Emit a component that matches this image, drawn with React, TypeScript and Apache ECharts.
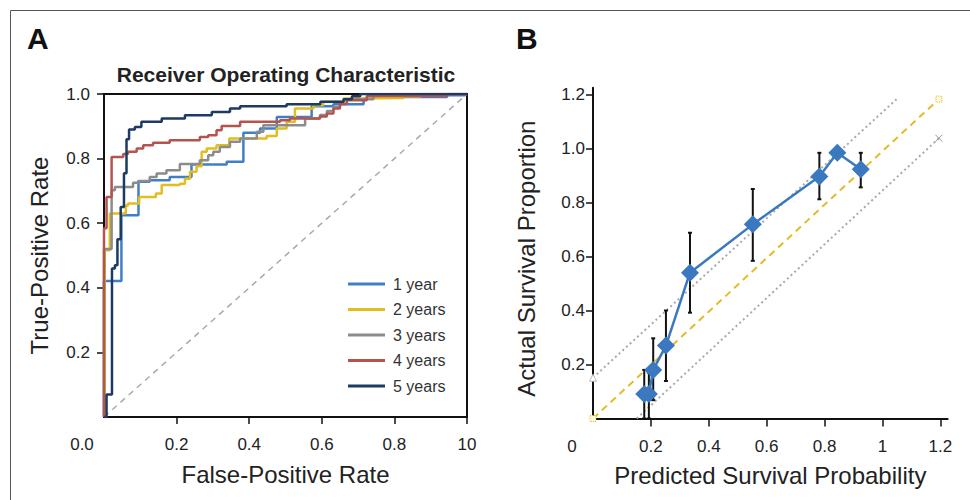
import React, { useEffect, useRef } from 'react';
import * as echarts from 'echarts';

// ---- Panel A: ROC curves (FPR, TPR) staircase vertices ----
const ROC_1Y = [[0,0],[0,0.421],[0.048,0.625],[0.095,0.728],[0.126,0.733],[0.181,0.743],[0.241,0.782],[0.338,0.79],[0.384,0.88],[0.43,0.893],[0.476,0.929],[0.572,0.962],[0.632,0.968],[0.715,0.986],[0.742,0.991],[0.945,0.996],[0.995,1],[1,1]];
const ROC_2Y = [[0,0],[0.002,0.516],[0.016,0.63],[0.06,0.655],[0.066,0.661],[0.097,0.681],[0.143,0.692],[0.159,0.718],[0.209,0.722],[0.223,0.738],[0.237,0.759],[0.255,0.776],[0.269,0.821],[0.283,0.831],[0.31,0.841],[0.345,0.862],[0.448,0.87],[0.476,0.893],[0.503,0.914],[0.526,0.955],[0.577,0.965],[0.604,0.976],[0.66,0.986],[0.706,0.988],[0.825,0.992],[0.871,1],[1,1]];
const ROC_3Y = [[0,0],[0,0.52],[0.021,0.702],[0.03,0.712],[0.08,0.725],[0.094,0.731],[0.126,0.743],[0.145,0.754],[0.172,0.764],[0.209,0.783],[0.264,0.795],[0.287,0.81],[0.301,0.821],[0.319,0.836],[0.347,0.852],[0.375,0.862],[0.421,0.883],[0.439,0.903],[0.554,0.924],[0.595,0.935],[0.614,0.947],[0.632,0.96],[0.65,0.968],[0.669,0.984],[0.742,0.996],[0.798,1],[1,1]];
const ROC_4Y = [[0,0],[0,0.584],[0.007,0.681],[0.021,0.805],[0.053,0.814],[0.066,0.821],[0.09,0.831],[0.108,0.841],[0.135,0.849],[0.181,0.857],[0.264,0.867],[0.287,0.872],[0.31,0.888],[0.324,0.901],[0.375,0.914],[0.485,0.919],[0.512,0.924],[0.595,0.93],[0.614,0.94],[0.632,0.955],[0.65,0.97],[0.669,0.981],[0.724,0.994],[0.945,1],[1,1]];
const ROC_5Y = [[0,0],[0.007,0.07],[0.022,0.46],[0.03,0.47],[0.037,0.55],[0.046,0.65],[0.055,0.755],[0.062,0.86],[0.069,0.89],[0.085,0.898],[0.103,0.914],[0.159,0.924],[0.223,0.934],[0.297,0.944],[0.347,0.955],[0.375,0.962],[0.503,0.968],[0.596,0.976],[0.66,0.984],[0.683,0.993],[0.706,1],[1,1]];
const ROC_NAMES = ['1 year', '2 years', '3 years', '4 years', '5 years'];
const ROC_COLORS = ['#3f7fc8', '#e2bd1f', '#8c8c8c', '#b5544f', '#1d3b62'];
const ROC_TICKS_X = [0.2, 0.4, 0.6, 0.8, 1.0];
const ROC_LABELS_X = [0, 0.2, 0.4, 0.6, 0.8, 1.0];
const ROC_TICKS_Y = [0.2, 0.4, 0.6, 0.8, 1.0];
const DIAGONAL = [[0, 0], [1, 1]];

// ---- Panel B: calibration ----
const CAL_X = [0.177, 0.193, 0.208, 0.252, 0.335, 0.552, 0.782, 0.844, 0.925];
const CAL_Y = [0.091, 0.091, 0.18, 0.27, 0.54, 0.719, 0.896, 0.984, 0.923];
const ERR_LOW = [0, 0, 0.068, 0.139, 0.392, 0.584, 0.812, null, 0.856];
const ERR_HIGH = [0.18, 0.17, 0.297, 0.40, 0.688, 0.85, 0.984, null, 0.984];
const IDEAL_LINE = [[0, 0], [1.195, 1.183]];
const UPPER_LINE = [[0, 0.151], [1.049, 1.183]];
const LOWER_LINE = [[0.151, 0], [1.195, 1.038]];
const CAL_TICKS_X = [0.2, 0.4, 0.6, 0.8, 1.0, 1.2];
const CAL_LABELS_X = [0, 0.2, 0.4, 0.6, 0.8, 1.0, 1.2];
const CAL_TICKS_Y = [0.2, 0.4, 0.6, 0.8, 1.0, 1.2];

const FONT = "'Liberation Sans', Arial, sans-serif";
const TXT = '#222';
const TICK_FS = 17;

export default function App() {
  const ref = useRef<HTMLDivElement>(null);
  useEffect(() => {
    const chart = echarts.init(ref.current!, null, { renderer: 'svg' });

    const rocSeries = [ROC_1Y, ROC_2Y, ROC_3Y, ROC_4Y, ROC_5Y].map((d, i) => ({
      type: 'line',
      name: ROC_NAMES[i],
      xAxisIndex: 0,
      yAxisIndex: 0,
      data: d,
      step: 'end',
      symbol: 'none',
      lineStyle: { color: ROC_COLORS[i], width: 2.5 },
      itemStyle: { color: ROC_COLORS[i] },
      z: 3 + i,
    }));

    const errData = CAL_X.map((x, i) => [x, ERR_LOW[i], ERR_HIGH[i]]).filter((d) => d[1] !== null);

    const option: any = {
      animation: false,
      backgroundColor: '#fff',
      textStyle: { fontFamily: FONT },
      graphic: [
        { type: 'rect', shape: { x: 10.5, y: 10.5, width: 1000, height: 1000 }, style: { fill: 'none', stroke: '#555', lineWidth: 1 }, silent: true },
        { type: 'text', left: 27, top: 23, style: { text: 'A', font: `bold 30px ${FONT}`, fill: '#111' } },
        { type: 'text', left: 516, top: 23, style: { text: 'B', font: `bold 30px ${FONT}`, fill: '#111' } },
        { type: 'text', x: 286, y: 74, style: { text: 'Receiver Operating Characteristic', font: `bold 21px ${FONT}`, fill: '#222', align: 'center', verticalAlign: 'middle' } },
      ],
      legend: {
        data: ROC_NAMES,
        orient: 'vertical',
        left: 343,
        top: 271,
        icon: 'rect',
        itemWidth: 37,
        itemHeight: 3,
        itemGap: 9.5,
        textStyle: { fontSize: 16, color: '#333', fontFamily: FONT, padding: [0, 0, 0, 3] },
      },
      grid: [
        { left: 104, top: 94, width: 363, height: 323, show: true, borderColor: '#111', borderWidth: 2, backgroundColor: 'transparent' },
        { left: 593, top: 87.75, width: 354.6, height: 330.75 },
      ],
      xAxis: [
        {
          gridIndex: 0, type: 'value', min: 0, max: 1,
          name: 'False-Positive Rate', nameLocation: 'middle', nameGap: 45,
          nameTextStyle: { fontSize: 24, color: TXT },
          axisLine: { show: true, lineStyle: { color: '#111', width: 2 } },
          axisTick: { show: true, length: 7, lineStyle: { color: '#111', width: 1.5 }, customValues: ROC_TICKS_X },
          axisLabel: {
            customValues: ROC_LABELS_X, margin: 19, fontSize: TICK_FS, color: TXT,
            formatter: (v: number) => (v === 0 ? '{s|0.0}' : v === 1 ? '10' : v.toFixed(1)),
            rich: { s: { fontSize: TICK_FS, color: TXT, padding: [0, 44, 0, 0] } },
          },
          splitLine: { show: false },
        },
        {
          gridIndex: 1, type: 'value', min: 0, max: 1.225,
          name: 'Predicted Survival Probability', nameLocation: 'middle', nameGap: 45,
          nameTextStyle: { fontSize: 24, color: TXT },
          axisLine: { show: true, onZero: false, lineStyle: { color: '#111', width: 2 } },
          axisTick: { show: true, length: 8, lineStyle: { color: '#111', width: 1.5 }, customValues: CAL_TICKS_X },
          axisLabel: {
            customValues: CAL_LABELS_X, margin: 19, fontSize: TICK_FS, color: TXT,
            formatter: (v: number) => (v === 0 ? '{s|0}' : v === 1 ? '1' : v.toFixed(1)),
            rich: { s: { fontSize: TICK_FS, color: TXT, padding: [0, 42, 0, 0] } },
          },
          splitLine: { show: false },
        },
      ],
      yAxis: [
        {
          gridIndex: 0, type: 'value', min: 0, max: 1,
          name: 'True-Positive Rate', nameLocation: 'middle', nameGap: 53,
          nameTextStyle: { fontSize: 24, color: TXT },
          axisLine: { show: true, lineStyle: { color: '#111', width: 2 } },
          axisTick: { show: true, length: 7, lineStyle: { color: '#111', width: 1.5 }, customValues: ROC_TICKS_Y },
          axisLabel: { customValues: ROC_TICKS_Y, margin: 14, fontSize: TICK_FS, color: TXT, formatter: (v: number) => v.toFixed(1) },
          splitLine: { show: false },
        },
        {
          gridIndex: 1, type: 'value', min: 0, max: 1.225,
          name: 'Actual Survival Proportion', nameLocation: 'middle', nameGap: 55,
          nameTextStyle: { fontSize: 24, color: TXT, padding: [0, 11, 0, 0] },
          axisLine: { show: true, onZero: false, lineStyle: { color: '#111', width: 2 } },
          axisTick: { show: true, length: 7, lineStyle: { color: '#111', width: 1.5 }, customValues: CAL_TICKS_Y },
          axisLabel: { customValues: CAL_TICKS_Y, margin: 8, fontSize: TICK_FS, color: TXT, formatter: (v: number) => v.toFixed(1) },
          splitLine: { show: false },
        },
      ],
      series: [
        {
          type: 'line', name: 'diag', xAxisIndex: 0, yAxisIndex: 0, data: DIAGONAL, symbol: 'none',
          lineStyle: { color: '#aaa', width: 1.5, type: [6, 5] }, z: 2,
        },
        ...rocSeries,
        {
          type: 'line', name: 'upper', xAxisIndex: 1, yAxisIndex: 1, symbolSize: 7,
          data: [
            { value: UPPER_LINE[0], symbol: 'triangle' },
            { value: UPPER_LINE[1], symbol: 'none' },
          ],
          itemStyle: { color: '#fff', borderColor: '#bbb', borderWidth: 1 },
          lineStyle: { color: '#aaa', width: 2, type: [2, 3] }, z: 2,
        },
        {
          type: 'line', name: 'lower', xAxisIndex: 1, yAxisIndex: 1, symbolSize: 7,
          data: [
            { value: LOWER_LINE[0], symbol: 'none' },
            { value: LOWER_LINE[1], symbol: 'path://M0,0L10,10M10,0L0,10' },
          ],
          itemStyle: { color: 'none', borderColor: '#999', borderWidth: 1 },
          lineStyle: { color: '#aaa', width: 2, type: [2, 3] }, z: 2,
        },
        {
          type: 'line', name: 'ideal', xAxisIndex: 1, yAxisIndex: 1, data: IDEAL_LINE,
          symbol: 'rect', symbolSize: 6,
          itemStyle: { color: '#fff8d8', borderColor: '#e3bc2a', borderWidth: 1, borderType: 'dotted' },
          lineStyle: { color: '#e3bc2a', width: 2, type: [7, 5] }, z: 3,
        },
        {
          type: 'custom', name: 'err', xAxisIndex: 1, yAxisIndex: 1, data: errData, z: 4,
          renderItem: (params: any, api: any) => {
            const x = api.value(0);
            const p1 = api.coord([x, api.value(1)]);
            const p2 = api.coord([x, api.value(2)]);
            const c = 2;
            const st = { stroke: '#111', lineWidth: 2 };
            return {
              type: 'group',
              children: [
                { type: 'line', shape: { x1: p1[0], y1: p1[1], x2: p2[0], y2: p2[1] }, style: st },
                { type: 'line', shape: { x1: p1[0] - c, y1: p1[1], x2: p1[0] + c, y2: p1[1] }, style: st },
                { type: 'line', shape: { x1: p2[0] - c, y1: p2[1], x2: p2[0] + c, y2: p2[1] }, style: st },
              ],
            };
          },
        },
        {
          type: 'line', name: 'calibration', xAxisIndex: 1, yAxisIndex: 1,
          data: CAL_X.map((x, i) => [x, CAL_Y[i]]),
          symbol: 'diamond', symbolSize: 18,
          itemStyle: { color: '#3a78bf' },
          lineStyle: { color: '#3a78bf', width: 2.5 }, z: 5,
        },
      ],
    };
    chart.setOption(option);
    return () => chart.dispose();
  }, []);
  return <div ref={ref} style={{ position: 'fixed', left: 0, top: 0, width: 970, height: 500, background: '#fff' }} />;
}
